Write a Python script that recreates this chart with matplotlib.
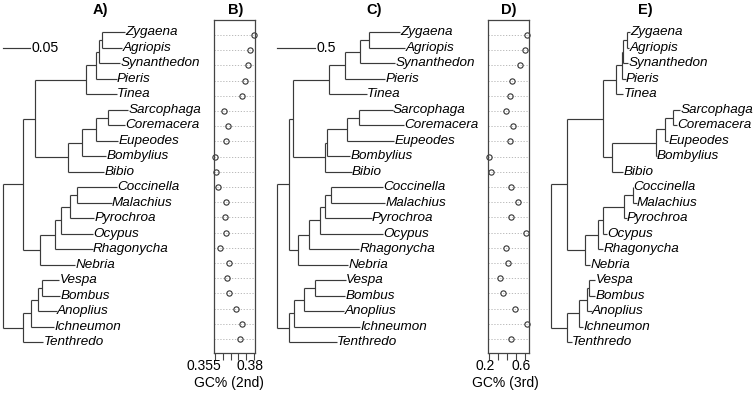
import matplotlib
matplotlib.use("Agg")
import matplotlib.pyplot as plt

plt.rcParams['font.family'] = ['Liberation Sans', 'DejaVu Sans']

# ---------------- data ----------------
taxa = ["Zygaena", "Agriopis", "Synanthedon", "Pieris", "Tinea",
        "Sarcophaga", "Coremacera", "Eupeodes", "Bombylius", "Bibio",
        "Coccinella", "Malachius", "Pyrochroa", "Ocypus", "Rhagonycha",
        "Nebria", "Vespa", "Bombus", "Anoplius", "Ichneumon", "Tenthredo"]

topology = ((((((("Zygaena", "Agriopis"), "Synanthedon"), "Pieris"), "Tinea"),
              (((("Sarcophaga", "Coremacera"), "Eupeodes"), "Bombylius"), "Bibio")),
             (((((("Coccinella", "Malachius"), "Pyrochroa"), "Ocypus"), "Rhagonycha"), "Nebria"))),
            (((("Vespa", "Bombus"), "Anoplius"), "Ichneumon"), "Tenthredo"))

# internal node depths (post-order), tip depths (taxa order)
node_depth_A = [0.1822, 0.1778, 0.1722, 0.1526, 0.1944, 0.1722, 0.1452, 0.1193, 0.0587,
                0.1359, 0.1235, 0.1063, 0.0957, 0.0680, 0.0359,
                0.0711, 0.0648, 0.0513, 0.0370, 0.0]
tip_depth_A = [0.2254, 0.2204, 0.2161, 0.2100, 0.2100, 0.2315, 0.2254, 0.2130, 0.1902, 0.1870,
               0.2100, 0.2007, 0.1685, 0.1667, 0.1656, 0.1328, 0.1037, 0.1050, 0.0989, 0.0939, 0.0741]

node_depth_C = [1.209, 1.087, 0.896, 0.683, 1.074, 0.914, 0.661, 0.631, 0.209,
                0.709, 0.631, 0.565, 0.422, 0.282, 0.164,
                0.500, 0.356, 0.230, 0.164, 0.0]
tip_depth_C = [1.610, 1.675, 1.544, 1.414, 1.175, 1.514, 1.662, 1.531, 0.957, 0.979,
               1.392, 1.414, 1.240, 1.392, 1.078, 0.935, 0.905, 0.892, 0.879, 1.087, 0.783]

node_depth_E = [0.588, 0.561, 0.549, 0.505, 0.948, 0.884, 0.812, 0.472, 0.402,
                0.634, 0.569, 0.402, 0.368, 0.265, 0.124,
                0.299, 0.278, 0.221, 0.124, 0.0]
tip_depth_E = [0.613, 0.608, 0.600, 0.580, 0.561, 1.000, 0.979, 0.910, 0.820, 0.561,
               0.639, 0.665, 0.588, 0.438, 0.407, 0.304, 0.343, 0.343, 0.317, 0.252, 0.162]

gc2 = [0.3800, 0.3774, 0.3760, 0.3742, 0.3721, 0.3608, 0.3633, 0.3621, 0.3552, 0.3556,
       0.3569, 0.3619, 0.3614, 0.3619, 0.3584, 0.3640, 0.3629, 0.3642, 0.3683, 0.3725, 0.3708]
gc3 = [0.626, 0.600, 0.544, 0.456, 0.437, 0.386, 0.463, 0.430, 0.200, 0.219,
       0.444, 0.519, 0.444, 0.608, 0.386, 0.414, 0.322, 0.359, 0.486, 0.619, 0.444]

gc2_ticks = [0.355, 0.360, 0.365, 0.370, 0.375, 0.380]
gc2_labels = ["0.355", "0.38"]
gc3_ticks = [0.2, 0.3, 0.4, 0.5, 0.6]
gc3_labels = ["0.2", "0.6"]

# ---------------- layout ----------------
W, H = 754, 394
fig = plt.figure(figsize=(W / 100, H / 100), dpi=100)
fig.patch.set_facecolor("white")
LINE = "#3a3a3a"
FS = 9.7
AXFS = 10.0


def px_axes(x0, x1, y0, y1):
    return fig.add_axes([x0 / W, 1 - y1 / H, (x1 - x0) / W, (y1 - y0) / H])


def fig_text(xpx, ypx, s, **kw):
    return fig.text(xpx / W, 1 - ypx / H, s, **kw)


TIP_Y0, TIP_DY = 32.3, 15.5


def tree_axes(x0, x1, root_px, px_per_unit):
    ax = px_axes(x0, x1, 0, H)
    ax.set_xlim((x0 - root_px) / px_per_unit, (x1 - root_px) / px_per_unit)
    ax.set_ylim(1 + (H - TIP_Y0) / TIP_DY, 1 - TIP_Y0 / TIP_DY)
    ax.axis("off")
    return ax


def draw_tree(ax, tip_depth, node_depth, px_per_unit):
    tipd = dict(zip(taxa, tip_depth))
    ypos = {t: i + 1 for i, t in enumerate(taxa)}
    it = iter(node_depth)

    def rec(node):
        if isinstance(node, str):
            return tipd[node], ypos[node]
        kids = [rec(c) for c in node]
        d = next(it)
        ys = [k[1] for k in kids]
        ax.plot([d, d], [min(ys), max(ys)], color=LINE, lw=0.85, solid_capstyle="butt")
        for kd, ky in kids:
            ax.plot([d, kd], [ky, ky], color=LINE, lw=0.85, solid_capstyle="butt")
        return d, (min(ys) + max(ys)) / 2

    rec(topology)
    off = 0.3 / px_per_unit
    for t in taxa:
        ax.text(tipd[t] + off, ypos[t], t, style="italic", fontsize=FS,
                ha="left", va="center", color="black")


def scale_bar(ax, length, label):
    y = 1 + (48.3 - TIP_Y0) / TIP_DY
    ax.plot([0, length], [y, y], color=LINE, lw=0.85)
    ax.text(length * 1.05, y, label, fontsize=FS + 0.5, ha="left", va="center")


def dot_panel(x0, x1, values, ticks, labels, label_px, xlim, xlabel, xlabel_px):
    ax = px_axes(x0, x1, 20, 353)
    rows = list(range(1, len(values) + 1))
    ax.set_xlim(*xlim)
    ax.set_ylim(21 + (353 - 339) / 15.2, 1 - (35 - 20) / 15.2)
    ax.hlines(rows, xlim[0], xlim[1], colors="#b0b0b0", linestyles=(0, (1.5, 2)), lw=0.6)
    ax.plot(values, rows, "o", mfc="none", mec="#333333", ms=3.8, mew=0.8, clip_on=False)
    for s in ax.spines.values():
        s.set_color("#444444")
        s.set_linewidth(0.9)
    ax.set_yticks([])
    ax.set_xticks(ticks)
    ax.set_xticklabels([])
    ax.tick_params(axis="x", length=5, width=0.8, color="#444444")
    for lab, xp in zip(labels, label_px):
        fig_text(xp, 366, lab, fontsize=AXFS, ha="center", va="center")
    fig_text(xlabel_px, 383, xlabel, fontsize=AXFS, ha="center", va="center")
    return ax


# Tree A
axA = tree_axes(0, 212, 3.3, 540.0)
draw_tree(axA, tip_depth_A, node_depth_A, 540.0)
scale_bar(axA, 0.05, "0.05")

# Panel B
dot_panel(214, 255, gc2, gc2_ticks, gc2_labels, (204, 250),
          (0.35436, 0.38064), "GC% (2nd)", 229)

# Tree C
axC = tree_axes(268, 485, 276.7, 76.6)
draw_tree(axC, tip_depth_C, node_depth_C, 76.6)
scale_bar(axC, 0.5, "0.5")

# Panel D
dot_panel(487.7, 529, gc3, gc3_ticks, gc3_labels, (485, 521),
          (0.1856, 0.6444), "GC% (3rd)", 505)

# Tree E
axE = tree_axes(540, 754, 550.7, 129.3)
draw_tree(axE, tip_depth_E, node_depth_E, 129.3)

# Titles
for x, t in [(100, "A)"), (236, "B)"), (374, "C)"), (509, "D)"), (645, "E)")]:
    fig_text(x, 10, t, fontsize=10.5, fontweight="bold", ha="center", va="center")

fig.savefig("out.png", dpi=100)
